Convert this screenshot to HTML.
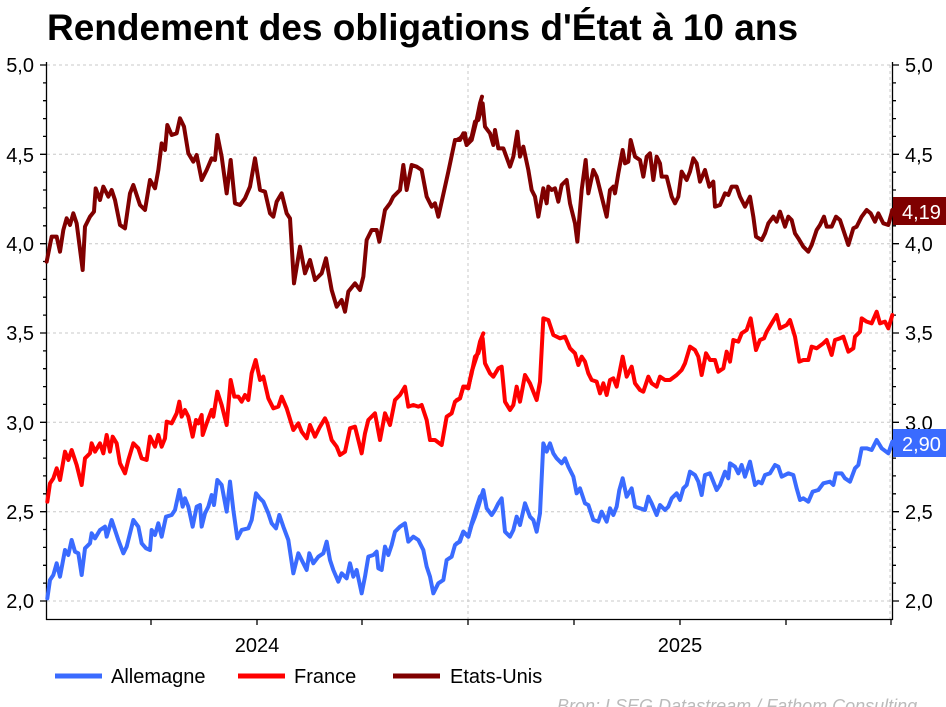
<!DOCTYPE html>
<html><head><meta charset="utf-8"><style>
body{margin:0;background:#fff;width:946px;height:707px;overflow:hidden}
svg{display:block;font-family:"Liberation Sans",sans-serif}
</style></head><body>
<svg width="946" height="707" viewBox="0 0 946 707">
<text x="47" y="40" font-size="37" font-weight="bold" fill="#000">Rendement des obligations d'État à 10 ans</text>
<g stroke="#c8c8c8" stroke-dasharray="3,3" stroke-width="1">
<line x1="47" x2="892" y1="65" y2="65"/><line x1="47" x2="892" y1="154.3" y2="154.3"/><line x1="47" x2="892" y1="243.7" y2="243.7"/><line x1="47" x2="892" y1="333" y2="333"/><line x1="47" x2="892" y1="422.3" y2="422.3"/><line x1="47" x2="892" y1="511.7" y2="511.7"/><line x1="47" x2="892" y1="601" y2="601"/>
<line x1="468" x2="468" y1="65" y2="619"/><line x1="890" x2="890" y1="65" y2="619"/>
</g>
<g stroke="#000" stroke-width="1.3">
<line x1="46.5" x2="46.5" y1="62" y2="620"/><line x1="892.5" x2="892.5" y1="62" y2="620"/><line x1="46" x2="893" y1="619.5" y2="619.5"/>
<path d="M40 65h7M40 154.3h7M40 243.7h7M40 333h7M40 422.3h7M40 511.7h7M40 601h7M892 65h7M892 154.3h7M892 243.7h7M892 333h7M892 422.3h7M892 511.7h7M892 601h7"/>
<path d="M43 82.9h4M43 100.7h4M43 118.6h4M43 136.4h4M43 172.2h4M43 190h4M43 207.9h4M43 225.8h4M43 261.5h4M43 279.4h4M43 297.2h4M43 315.1h4M43 350.9h4M43 368.7h4M43 386.6h4M43 404.4h4M43 440.2h4M43 458.1h4M43 475.9h4M43 493.8h4M43 529.5h4M43 547.4h4M43 565.3h4M43 583.1h4"/>
<path d="M892 82.9h4M892 100.7h4M892 118.6h4M892 136.4h4M892 172.2h4M892 190h4M892 207.9h4M892 225.8h4M892 261.5h4M892 279.4h4M892 297.2h4M892 315.1h4M892 350.9h4M892 368.7h4M892 386.6h4M892 404.4h4M892 440.2h4M892 458.1h4M892 475.9h4M892 493.8h4M892 529.5h4M892 547.4h4M892 565.3h4M892 583.1h4"/>
<path d="M151 619v6M257 619v6M362 619v6M468 619v6M574 619v6M680 619v6M786 619v6M891 619v6"/>
</g>
<g font-size="20" fill="#000">
<g text-anchor="end"><text x="34" y="72">5,0</text><text x="34" y="162">4,5</text><text x="34" y="251">4,0</text><text x="34" y="340">3,5</text><text x="34" y="430">3,0</text><text x="34" y="519">2,5</text><text x="34" y="608">2,0</text></g>
<text x="905" y="72">5,0</text><text x="905" y="162">4,5</text><text x="905" y="251">4,0</text><text x="905" y="340">3,5</text><text x="905" y="430">3,0</text><text x="905" y="519">2,5</text><text x="905" y="608">2,0</text>
<text x="257" y="652" text-anchor="middle">2024</text><text x="680" y="652" text-anchor="middle">2025</text>
</g>
<g fill="none" stroke-width="12" stroke-linejoin="round" stroke-linecap="round">
<g transform="translate(40,90) scale(0.33333)">
<polyline stroke="#800000" points="20,515 35,440 50,440 60,485 70,420 80,385 90,405 100,370 110,400 128,540 135,410 150,380 162,365 167,295 180,330 190,290 205,320 215,300 225,330 240,405 255,415 270,310 280,285 300,345 315,360 330,270 345,295 355,240 365,160 375,180 382,105 395,135 410,130 420,85 432,110 445,190 460,215 470,195 485,270 500,240 515,205 525,210 532,135 545,200 560,310 572,210 585,340 600,345 615,325 630,290 645,205 660,300 675,305 690,370 700,380 710,335 725,310 740,370 750,385 762,580 780,470 795,550 810,510 825,570 845,550 858,505 875,600 890,650 905,630 915,665 925,605 945,580 960,600 970,560 980,450 995,420 1010,420 1018,455 1035,360 1050,340 1060,320 1080,300 1090,225 1100,300 1115,225 1130,230 1145,240 1160,320 1175,350 1185,340 1195,380 1215,290 1225,245 1245,150 1260,150 1270,130 1280,165 1295,150 1310,90 1320,40 1326,20"/>
<polyline stroke="#ff0000" points="22,1235 30,1180 40,1165 50,1135 60,1170 75,1085 85,1110 95,1080 110,1125 125,1185 135,1105 150,1090 155,1060 165,1085 180,1060 190,1090 200,1035 210,1085 218,1040 230,1060 240,1120 255,1150 265,1110 280,1060 295,1075 305,1105 320,1110 330,1040 345,1070 355,1035 365,1070 375,1045 380,995 395,1000 410,970 418,935 425,980 435,960 445,980 458,1040 468,990 475,1000 485,975 488,1035 500,1000 515,960 520,980 532,905 545,945 560,1005 572,870 583,920 595,920 605,935 615,915 625,930 635,850 647,810 660,870 670,860 685,925 700,955 715,950 725,920 740,955 760,1020 775,1000 785,1025 800,1045 810,1005 825,1040 840,1010 855,985 862,1000 875,1050 890,1070 900,1095 915,1085 930,1015 945,1010 955,1050 965,1090 975,1030 985,990 1005,970 1020,1050 1035,970 1050,1005 1065,930 1080,915 1095,890 1105,950 1120,945 1135,950 1145,945 1160,990 1170,1050 1185,1050 1205,1065 1220,980 1235,970 1245,935 1260,925 1270,890 1285,895 1295,845 1310,800 1320,755 1330,730"/>
<polyline stroke="#3a6bff" points="22,1525 30,1470 40,1455 50,1420 60,1460 75,1380 85,1395 95,1350 105,1385 115,1390 125,1455 135,1375 150,1360 155,1330 165,1345 180,1320 195,1310 200,1340 215,1290 225,1320 235,1350 250,1390 260,1370 280,1290 295,1310 305,1360 318,1375 330,1380 335,1320 345,1335 355,1300 365,1340 378,1280 395,1275 405,1260 418,1200 428,1250 435,1225 445,1250 458,1310 470,1250 480,1245 485,1310 495,1270 505,1250 515,1215 522,1245 532,1170 545,1185 560,1265 570,1175 580,1260 592,1345 605,1320 625,1315 635,1290 648,1210 660,1225 670,1235 685,1270 695,1300 708,1315 718,1275 730,1310 745,1350 760,1450 775,1390 790,1420 800,1440 808,1390 820,1420 835,1400 850,1390 860,1355 870,1410 880,1440 895,1475 905,1450 920,1465 930,1420 940,1460 950,1440 965,1510 975,1460 985,1400 1000,1395 1010,1385 1015,1435 1025,1440 1035,1370 1045,1395 1055,1365 1065,1325 1080,1310 1095,1300 1105,1355 1120,1340 1135,1350 1150,1380 1160,1430 1170,1460 1180,1510 1195,1480 1210,1470 1220,1410 1235,1400 1245,1365 1258,1355 1270,1325 1285,1340 1295,1300 1310,1250 1320,1220 1330,1210"/>
</g>
<g transform="translate(460,90) scale(0.33333)">
<polyline stroke="#800000" points="-10,150 0,145 15,130 20,165 35,140 45,95 55,90 68,40 75,110 90,130 100,165 105,120 115,175 130,175 150,230 160,200 172,125 180,200 190,170 205,240 215,300 225,320 235,380 250,295 260,340 265,290 275,300 285,295 295,335 305,285 320,270 330,340 345,400 352,455 365,300 377,210 385,310 400,240 410,260 425,320 440,380 450,300 460,290 465,310 475,250 488,180 495,220 505,215 512,150 525,200 540,210 550,260 560,200 570,190 580,270 590,200 600,220 605,260 620,260 635,320 645,340 655,320 665,245 680,270 690,245 700,205 710,220 720,275 735,240 748,290 760,275 765,350 780,345 795,310 805,315 815,290 830,290 840,320 855,350 870,320 880,380 888,440 905,450 915,430 925,400 940,380 950,395 960,365 975,410 985,380 995,390 1005,430 1015,445 1030,470 1045,485 1055,465 1070,420 1080,405 1092,380 1100,410 1115,410 1128,380 1140,390 1150,420 1165,465 1180,415 1190,410 1205,380 1220,360 1232,370 1245,395 1255,370 1270,400 1285,405 1297,360"/>
<polyline stroke="#ff0000" points="-10,930 0,925 10,890 25,890 35,850 45,800 55,790 68,745 75,820 90,850 100,860 115,835 125,830 135,935 150,960 160,945 170,890 180,935 195,855 210,880 230,930 240,875 250,685 265,690 280,735 300,745 315,740 330,775 345,790 355,825 365,800 375,815 385,850 395,870 410,875 420,910 430,880 440,915 450,870 460,865 470,890 480,840 488,800 500,860 515,830 525,880 540,900 550,905 565,860 575,880 590,890 600,860 615,870 630,870 650,855 665,840 675,820 690,770 705,780 715,800 725,855 738,790 750,810 765,810 775,845 790,835 800,785 810,815 820,750 835,755 845,730 860,720 872,685 888,780 900,750 912,745 920,725 935,700 950,675 960,715 980,705 990,690 1005,740 1018,815 1030,810 1045,810 1055,770 1070,775 1090,760 1100,750 1115,795 1125,750 1140,745 1150,740 1165,785 1180,775 1185,740 1200,725 1205,685 1220,695 1235,700 1250,665 1260,700 1275,695 1285,715 1297,675"/>
<polyline stroke="#3a6bff" points="-10,1360 0,1355 10,1325 25,1340 35,1305 45,1280 55,1250 70,1200 80,1255 95,1275 105,1260 115,1240 125,1225 135,1325 150,1340 160,1320 170,1280 180,1305 195,1240 210,1280 220,1290 230,1325 240,1270 250,1060 260,1085 270,1060 280,1090 290,1105 305,1120 315,1105 325,1130 340,1160 350,1210 360,1195 375,1240 385,1245 400,1290 415,1295 425,1265 440,1295 450,1255 460,1275 470,1250 478,1200 488,1165 500,1220 515,1195 525,1250 540,1255 555,1260 565,1220 575,1240 590,1275 600,1245 615,1260 625,1250 635,1225 650,1210 660,1230 670,1195 680,1185 690,1145 705,1155 715,1175 725,1215 735,1155 750,1150 760,1175 770,1200 780,1185 795,1145 805,1165 810,1120 825,1130 835,1150 845,1125 855,1160 870,1115 885,1185 895,1175 905,1180 915,1155 930,1150 945,1125 955,1130 965,1160 985,1150 1000,1155 1010,1195 1020,1230 1030,1225 1045,1235 1058,1205 1075,1200 1090,1180 1110,1175 1120,1185 1128,1150 1145,1150 1155,1165 1170,1175 1185,1135 1195,1125 1205,1075 1220,1075 1235,1080 1250,1050 1265,1075 1285,1090 1297,1055"/>
</g>
</g>
<rect x="893" y="197" width="53" height="28" fill="#7f0000"/>
<text x="902" y="219" font-size="20" fill="#fff">4,19</text>
<rect x="893" y="429" width="53" height="28" fill="#3a6bff"/>
<text x="902" y="451" font-size="20" fill="#fff">2,90</text>
<g stroke-width="5">
<line x1="55" x2="102" y1="676" y2="676" stroke="#3a6bff"/>
<line x1="238" x2="285" y1="676" y2="676" stroke="#ff0000"/>
<line x1="393" x2="440" y1="676" y2="676" stroke="#800000"/>
</g>
<g font-size="20" fill="#000"><text x="111" y="683">Allemagne</text><text x="294" y="683">France</text><text x="450" y="683">Etats-Unis</text></g>
<text x="557" y="712" font-size="18" font-style="italic" fill="#bbb">Bron: LSEG Datastream / Fathom Consulting</text>
</svg>
</body></html>
